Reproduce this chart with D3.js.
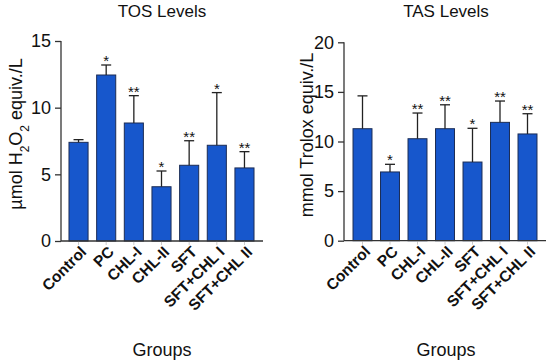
<!DOCTYPE html>
<html>
<head>
<meta charset="utf-8">
<script src="https://cdn.jsdelivr.net/npm/d3@7"></script>
<style>
  body { margin: 0; background: #fff; }
  text { font-family: "Liberation Sans", Arial, sans-serif; fill: #111; }
</style>
</head>
<body>
<svg id="chart" width="550" height="362"></svg>
<script>
  var groups = ['Control', 'PC', 'CHL-I', 'CHL-II', 'SFT', 'SFT+CHL I', 'SFT+CHL II'];

  var tosMean = [7.4, 12.45, 8.85, 4.07, 5.68, 7.18, 5.48];
  var tosErr = [0.2, 0.75, 2.05, 1.18, 1.84, 3.95, 1.22];
  var tosSig = ['', '*', '**', '*', '**', '*', '**'];
  var tosTicks = [0, 5, 10, 15];

  var tasMean = [11.29, 6.93, 10.28, 11.29, 7.93, 11.93, 10.76];
  var tasErr = [3.31, 0.77, 2.59, 2.41, 3.4, 2.15, 2.04];
  var tasSig = ['', '*', '**', '**', '*', '**', '**'];
  var tasTicks = [0, 5, 10, 15, 20];

  var svg = d3.select('#chart');

  function drawPanel(cfg) {
    var g = svg.append('g');
    var x = d3.scaleBand().domain(groups)
      .range(cfg.xRange).paddingInner(0.31).paddingOuter(0.155);
    var y = d3.scaleLinear().domain([0, cfg.yMax]).range([cfg.yBottom, cfg.yTop]);
    var cx = function(i) { return x(groups[i]) + x.bandwidth() / 2; };

    // bars
    g.selectAll('rect.bar').data(cfg.mean).enter().append('rect')
      .attr('class', 'bar')
      .attr('x', function(d, i) { return x(groups[i]); })
      .attr('y', function(d) { return y(d); })
      .attr('width', x.bandwidth())
      .attr('height', function(d) { return y(0) - y(d); })
      .attr('fill', '#1757cc')
      .attr('stroke', '#1c2d55')
      .attr('stroke-width', 1);

    // error bars (upper only)
    var eb = g.selectAll('g.err').data(cfg.mean).enter().append('g').attr('class', 'err');
    eb.append('line')
      .attr('x1', function(d, i) { return cx(i); })
      .attr('x2', function(d, i) { return cx(i); })
      .attr('y1', function(d) { return y(d); })
      .attr('y2', function(d, i) { return y(d + cfg.err[i]); })
      .attr('stroke', '#222').attr('stroke-width', 1.3);
    eb.append('line')
      .attr('x1', function(d, i) { return cx(i) - 5; })
      .attr('x2', function(d, i) { return cx(i) + 5; })
      .attr('y1', function(d, i) { return y(d + cfg.err[i]); })
      .attr('y2', function(d, i) { return y(d + cfg.err[i]); })
      .attr('stroke', '#222').attr('stroke-width', 1.3);

    // significance stars
    g.selectAll('text.sig').data(cfg.sig).enter().append('text')
      .attr('class', 'sig')
      .attr('x', function(d, i) { return cx(i); })
      .attr('y', function(d, i) { return y(cfg.mean[i] + cfg.err[i]) + 1; })
      .attr('text-anchor', 'middle')
      .attr('font-size', 15)
      .text(function(d) { return d; });

    // y axis
    var yAxis = g.append('g')
      .attr('transform', 'translate(' + cfg.axisX0 + ',0)')
      .call(d3.axisLeft(y).tickValues(cfg.ticks).tickSize(6).tickPadding(4));
    yAxis.select('.domain').remove();
    yAxis.append('line')
      .attr('x1', 0).attr('x2', 0)
      .attr('y1', cfg.yTop).attr('y2', cfg.yBottom)
      .attr('stroke', '#333').attr('stroke-width', 1.3);
    yAxis.selectAll('.tick line').attr('stroke', '#333').attr('stroke-width', 1.3);
    yAxis.selectAll('.tick text')
      .attr('font-size', 18)
      .attr('font-family', '"Liberation Sans", Arial, sans-serif')
      .attr('fill', '#111');

    // x axis
    var xAxis = g.append('g')
      .attr('transform', 'translate(0,' + cfg.yBottom + ')')
      .call(d3.axisBottom(x).tickSize(4).tickPadding(3));
    xAxis.select('.domain').remove();
    xAxis.append('line')
      .attr('x1', cfg.axisX0).attr('x2', cfg.axisX1)
      .attr('y1', 0).attr('y2', 0)
      .attr('stroke', '#333').attr('stroke-width', 1.3);
    xAxis.selectAll('.tick line').attr('stroke', '#ccc');
    xAxis.selectAll('.tick text')
      .attr('font-size', 15.5)
      .attr('font-weight', 'bold')
      .attr('font-family', '"Liberation Sans", Arial, sans-serif')
      .attr('fill', '#111')
      .attr('text-anchor', 'end')
      .attr('dy', '0.35em')
      .attr('transform', 'translate(5,8) rotate(-45)')
      .attr('y', 0).attr('x', 0);

    // titles
    g.append('text')
      .attr('x', cfg.titleX).attr('y', 17)
      .attr('text-anchor', 'middle').attr('font-size', 17)
      .text(cfg.title);

    g.append('text')
      .attr('x', cfg.titleX).attr('y', 356)
      .attr('text-anchor', 'middle').attr('font-size', 18)
      .text('Groups');

    var yl = g.append('text')
      .attr('transform', 'translate(' + cfg.yLabelX + ',' + cfg.yLabelY + ') rotate(-90)')
      .attr('text-anchor', 'middle').attr('font-size', 18);
    cfg.yLabel.forEach(function(p) {
      var t = yl.append('tspan').text(p[0]);
      if (p[1]) t.attr('baseline-shift', 'sub').attr('font-size', 12);
    });
  }

  drawPanel({
    title: 'TOS Levels', titleX: 162,
    mean: tosMean, err: tosErr, sig: tosSig, ticks: tosTicks, yMax: 15,
    xRange: [64.7, 258.3], axisX0: 61, axisX1: 263,
    yTop: 41, yBottom: 241, yLabelX: 22, yLabelY: 134,
    yLabel: [['µmol H'], ['2', true], ['O'], ['2', true], [' equiv./L']]
  });

  drawPanel({
    title: 'TAS Levels', titleX: 446,
    mean: tasMean, err: tasErr, sig: tasSig, ticks: tasTicks, yMax: 20,
    xRange: [348.75, 541.25], axisX0: 344, axisX1: 546,
    yTop: 42.3, yBottom: 240.7, yLabelX: 313, yLabelY: 135,
    yLabel: [['mmol Trolox equiv./L']]
  });
</script>
</body>
</html>
